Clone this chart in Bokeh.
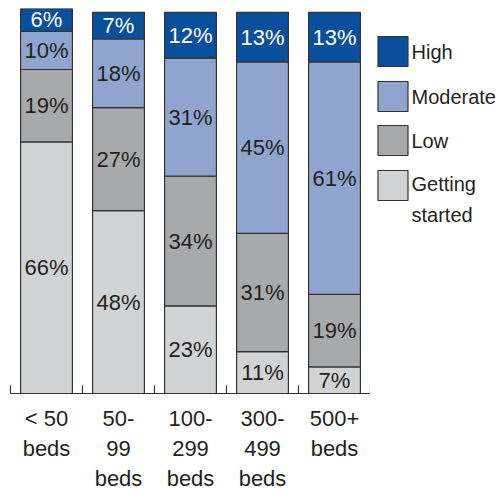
from bokeh.plotting import figure
from bokeh.models import Range1d, FixedTicker, ColumnDataSource
from bokeh.layouts import row
from bokeh.core.properties import value
from bokeh.embed import file_html
from bokeh.resources import INLINE

categories = ["< 50\nbeds", "50-\n99\nbeds", "100-\n299\nbeds", "300-\n499\nbeds", "500+\nbeds"]
series = ["Getting started", "Low", "Moderate", "High"]
getting_started = [66, 48, 23, 11, 7]
low = [19, 27, 34, 31, 19]
moderate = [10, 18, 31, 45, 61]
high = [6, 7, 12, 13, 13]
colors = ["#d2d3d5", "#a8a9ab", "#8fa4cf", "#0a4f9b"]
label_colors = ["#231f20", "#231f20", "#231f20", "#ffffff"]
legend_labels = ["High", "Moderate", "Low", "Getting\nstarted"]
legend_colors = colors[::-1]

FONT = "Liberation Sans"
TEXT = "#231f20"
EDGE = "#333333"

xs = [i + 0.5 for i in range(len(categories))]
data = {"x": xs, "Getting started": getting_started, "Low": low,
        "Moderate": moderate, "High": high}
src = ColumnDataSource(data)

p = figure(frame_width=360, frame_height=385, x_range=Range1d(0, len(categories)),
           y_range=Range1d(0, 101), output_backend="svg", toolbar_location=None,
           min_border_left=10, min_border_top=8, min_border_bottom=0, min_border_right=0)

p.vbar_stack(series, x="x", width=0.72, source=src, color=colors,
             line_color=EDGE, line_width=1.2)

# segment labels, centred in each segment
all_vals = [getting_started, low, moderate, high]
base = [0] * len(categories)
for vals, tc in zip(all_vals, label_colors):
    mids = [b + v / 2 for b, v in zip(base, vals)]
    p.text(x=xs, y=mids, text=[f"{v}%" for v in vals], text_align="center",
           text_baseline="middle", text_font=value(FONT), text_font_size="22px",
           text_color=tc)
    base = [b + v for b, v in zip(base, vals)]

p.xgrid.visible = False
p.ygrid.visible = False
p.yaxis.visible = False
p.outline_line_color = None

ax = p.xaxis[0]
ax.ticker = FixedTicker(ticks=xs, minor_ticks=list(range(len(categories) + 1)))
ax.major_label_overrides = {x: c for x, c in zip(xs, categories)}
ax.major_tick_in = 0
ax.major_tick_out = 0
ax.minor_tick_in = 8
ax.minor_tick_out = 0
ax.minor_tick_line_color = EDGE
ax.axis_line_color = EDGE
ax.axis_line_width = 1.2
ax.minor_tick_line_width = 1.2
ax.major_label_text_font = FONT
ax.major_label_text_font_size = "22px"
ax.major_label_text_color = TEXT
ax.major_label_standoff = 12

# legend panel (pixel-like coordinates, y downward)
leg = figure(frame_width=126, frame_height=240, x_range=Range1d(0, 126),
             y_range=Range1d(240, 0), output_backend="svg", toolbar_location=None,
             min_border_left=0, min_border_right=0, min_border_top=0, min_border_bottom=0)
leg.axis.visible = False
leg.grid.visible = False
leg.outline_line_color = None
sw_y = [43, 88, 132, 177]
txt_y = [43, 88, 132, 191]
leg.rect(x=[22.5] * len(legend_labels), y=sw_y, width=30, height=30,
         fill_color=legend_colors, line_color=EDGE, line_width=1.2)
leg.text(x=[41] * len(legend_labels), y=txt_y, text=legend_labels,
         text_align="left", text_baseline="middle", text_font=value(FONT),
         text_font_size="20px", text_color=TEXT, text_line_height=1.4)

layout = row(p, leg)
open("out.html", "w").write(file_html(layout, INLINE))
